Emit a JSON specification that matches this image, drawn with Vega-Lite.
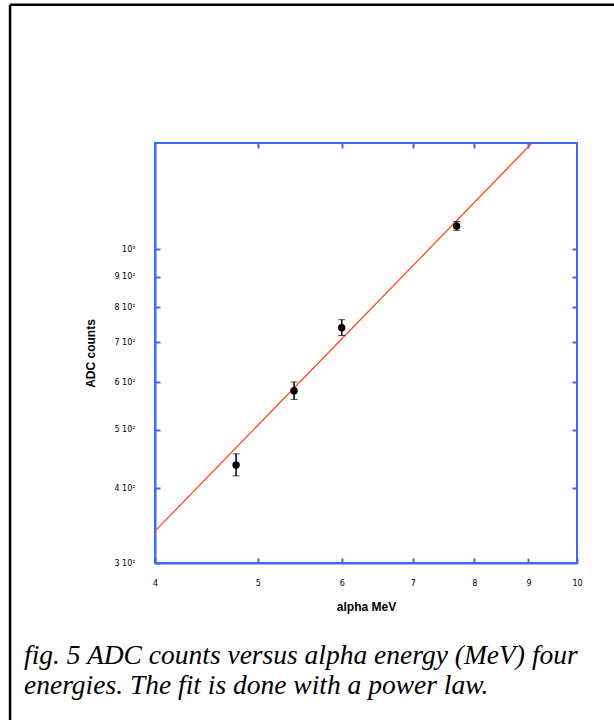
{
  "$schema": "https://vega.github.io/schema/vega-lite/v6.json",
  "width": 422,
  "height": 420,
  "autosize": {"type": "none"},
  "padding": {"left": 155, "top": 143, "right": 37, "bottom": 157},
  "background": "white",
  "config": {
    "view": {"stroke": "#3a6cf0", "strokeWidth": 2},
    "axis": {
      "domainColor": "#3a6cf0",
      "domainWidth": 2,
      "tickColor": "#3a6cf0",
      "tickWidth": 2,
      "tickSize": -5,
      "grid": false,
      "labelFont": "DejaVu Sans",
      "labelFontSize": 8,
      "labelFontWeight": "normal",
      "labelColor": "black",
      "titleFont": "Liberation Sans",
      "titleFontSize": 12,
      "titleFontWeight": "bold",
      "titleColor": "black"
    }
  },
  "title": {
    "text": ["fig. 5 ADC counts versus alpha energy (MeV) four", "energies. The fit is done with a power law."],
    "orient": "bottom",
    "anchor": "start",
    "frame": "group",
    "dx": -131,
    "dy": -131,
    "offset": 28,
    "font": "Liberation Serif",
    "fontStyle": "italic",
    "fontWeight": "normal",
    "fontSize": 27.5,
    "lineHeight": 30,
    "color": "black"
  },
  "datasets": {
    "points": [
      {"energy": 4.77, "adc": 437, "lo": 419, "hi": 456},
      {"energy": 5.41, "adc": 581, "lo": 562, "hi": 601},
      {"energy": 6.0, "adc": 740, "lo": 718, "hi": 763},
      {"energy": 7.7, "adc": 1093, "lo": 1075, "hi": 1112}
    ],
    "fit": [
      {"energy": 4.0, "adc": 339},
      {"energy": 9.07, "adc": 1503}
    ]
  },
  "resolve": {"axis": {"x": "independent", "y": "independent"}},
  "layer": [
    {
      "data": {"name": "fit"},
      "mark": {"type": "line", "color": "#ff4a2a", "strokeWidth": 1.3, "clip": true},
      "encoding": {
        "x": {"field": "energy", "type": "quantitative",
              "scale": {"type": "log", "domain": [4, 10], "nice": false, "zero": false},
              "axis": {"orient": "bottom", "title": "alpha MeV", "values": [4, 5, 6, 7, 8, 9, 10],
                       "labelPadding": 21, "titlePadding": 14, "labelFlush": false, "labelOverlap": false}},
        "y": {"field": "adc", "type": "quantitative",
              "scale": {"type": "log", "domain": [300, 1503], "nice": false, "zero": false},
              "axis": {"orient": "left", "title": "ADC counts", "values": [300, 400, 500, 600, 700, 800, 900, 1000],
                       "labelExpr": "datum.value == 1000 ? '10³' : (datum.value / 100) + ' 10²'",
                       "labelPadding": 25, "titlePadding": 16, "labelFlush": false, "labelOverlap": false}}
      }
    },
    {
      "data": {"name": "points"},
      "mark": {"type": "errorbar", "ticks": {"size": 7, "color": "black", "strokeWidth": 1.5}, "rule": {"color": "black", "strokeWidth": 1.5}},
      "encoding": {
        "x": {"field": "energy", "type": "quantitative",
              "scale": {"type": "log", "domain": [4, 10], "nice": false, "zero": false}, "axis": null},
        "y": {"field": "lo", "type": "quantitative",
              "scale": {"type": "log", "domain": [300, 1503], "nice": false, "zero": false}, "axis": null, "title": null},
        "y2": {"field": "hi"}
      }
    },
    {
      "data": {"name": "points"},
      "mark": {"type": "circle", "color": "black", "opacity": 1, "size": 55},
      "encoding": {
        "x": {"field": "energy", "type": "quantitative",
              "scale": {"type": "log", "domain": [4, 10], "nice": false, "zero": false},
              "axis": {"orient": "top", "title": null, "labels": false, "domain": false, "values": [5, 6, 7, 8, 9]}},
        "y": {"field": "adc", "type": "quantitative",
              "scale": {"type": "log", "domain": [300, 1503], "nice": false, "zero": false},
              "axis": {"orient": "right", "title": null, "labels": false, "domain": false, "values": [400, 500, 600, 700, 800, 900, 1000]}}
      }
    },
    {
      "data": {"values": [{}]},
      "mark": {"type": "rule", "color": "black", "strokeWidth": 2.5, "clip": false},
      "encoding": {
        "x": {"datum": 2.92, "type": "quantitative",
              "scale": {"type": "log", "domain": [4, 10], "nice": false, "zero": false}, "axis": null},
        "y": {"datum": 2555, "type": "quantitative",
              "scale": {"type": "log", "domain": [300, 1503], "nice": false, "zero": false}, "axis": null},
        "y2": {"datum": 150}
      }
    },
    {
      "data": {"values": [{}]},
      "mark": {"type": "rule", "color": "black", "strokeWidth": 2.5, "clip": false},
      "encoding": {
        "x": {"datum": 2.92, "type": "quantitative",
              "scale": {"type": "log", "domain": [4, 10], "nice": false, "zero": false}, "axis": null},
        "x2": {"datum": 12},
        "y": {"datum": 2555, "type": "quantitative",
              "scale": {"type": "log", "domain": [300, 1503], "nice": false, "zero": false}, "axis": null}
      }
    }
  ]
}
